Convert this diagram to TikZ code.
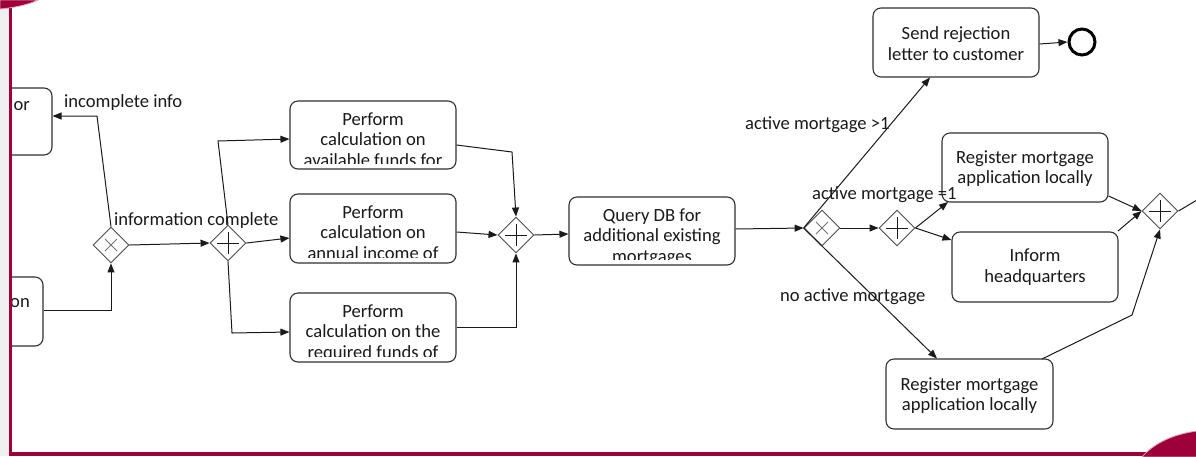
\documentclass[tikz,border=0pt]{standalone}
\usepackage{fontspec}
\setmainfont{Carlito}
\usetikzlibrary{arrows.meta,shapes.geometric}
\definecolor{slidered}{HTML}{9E0039}
\definecolor{slidepink}{HTML}{E8A0B8}
\definecolor{ink}{HTML}{1A1A1A}
\tikzset{
  task/.style={draw=ink!90, line width=1.1pt, rounded corners=8pt, fill=white, inner sep=0pt},
  tasktext/.style={text=ink, align=center, font=\fontsize{18.6}{20.8}\selectfont, inner sep=0pt},
  lbl/.style={text=ink, font=\fontsize{18.6}{20}\selectfont, inner sep=0pt, anchor=west},
  gw/.style={diamond, draw=black!70, line width=0.9pt, minimum width=36pt, minimum height=36pt, inner sep=0pt, fill=white},
  flow/.style={draw=ink, line width=1pt, -{Triangle[length=9pt,width=7pt]}},
  plainflow/.style={draw=ink, line width=1pt},
  pmark/.style={draw=ink, line width=1pt},
  xmark/.style={draw=black!55, line width=0.9pt},
}
\begin{document}
\begin{tikzpicture}[x=1pt,y=-1pt]
\useasboundingbox (0,0) rectangle (1196,456);
\fill[white] (0,0) rectangle (1196,456);
% slide frame
\fill[black!6] (0,0) rectangle (9,456);
% left boxes (cut)
\begin{scope}
\clip (12,0) rectangle (300,456);
\node[task, minimum width=90pt, minimum height=67pt] (a) at (7,121.5) {};
\node[task, minimum width=80pt, minimum height=69pt] (b) at (3,311.5) {};
\end{scope}
\node[tasktext, anchor=base east] (at) at (30,110) {or};
\node[tasktext, anchor=base east] (bt) at (30,307) {on};
\fill[slidered] (8.5,0) rectangle (12,456);
\fill[slidered] (8.5,452) rectangle (1196,456);
\fill[slidered, draw=slidepink, line width=0.8pt] (0,0) -- (38,0) .. controls (28,5) and (12,8) .. (0,9) -- cycle;
\fill[slidered, draw=slidepink, line width=0.8pt] (1142,457) .. controls (1155,442) and (1175,434) .. (1197,431) -- (1197,457) -- cycle;

% gateways
\node[gw] (x1) at (111,245) {};
\draw[xmark] (105,239) -- (117,251) (117,239) -- (105,251);
\node[gw] (p1) at (228,243) {};
\draw[pmark] (217,243) -- (239,243) (228,232) -- (228,254);
\node[gw] (p2) at (516,235) {};
\draw[pmark] (505,235) -- (527,235) (516,224) -- (516,246);
\node[gw] (x2) at (822,228) {};
\draw[xmark] (816,222) -- (828,234) (828,222) -- (816,234);
\node[gw] (p3) at (897,228) {};
\draw[pmark] (886,228) -- (908,228) (897,217) -- (897,239);
\node[gw] (p4) at (1160,211) {};
\draw[pmark] (1149,211) -- (1171,211) (1160,200) -- (1160,222);

% tasks with clipped text
\node[task, minimum width=166pt, minimum height=68pt] (c1) at (373,135) {};
\begin{scope}\clip (290,101) rectangle (456,163.5);
\node[tasktext, anchor=base] (c1t) at (373,166.6) {Perform\\calculation on\\available funds for};
\end{scope}
\node[task, minimum width=166pt, minimum height=69pt] (c2) at (373,228.5) {};
\begin{scope}\clip (290,194) rectangle (456,257);
\node[tasktext, anchor=base] (c2t) at (373,259.6) {Perform\\calculation on\\annual income of};
\end{scope}
\node[task, minimum width=166pt, minimum height=69pt] (c3) at (373,327.5) {};
\begin{scope}\clip (290,293) rectangle (456,356);
\node[tasktext, anchor=base] (c3t) at (373,358.6) {Perform\\calculation on the\\required funds of};
\end{scope}
\node[task, minimum width=166pt, minimum height=68pt] (d) at (652,231) {};
\begin{scope}\clip (569,197) rectangle (735,259);
\node[tasktext, anchor=base] (dt) at (652,262.6) {Query DB for\\additional existing\\mortgages};
\end{scope}
\node[task, minimum width=166pt, minimum height=69pt] (e) at (956,42.5) {};
\node[tasktext] (et) at (956,43.5) {Send rejection\\letter to customer};
\node[task, minimum width=166pt, minimum height=69pt] (f1) at (1025,167.5) {};
\node[tasktext] (f1t) at (1025,168.5) {Register mortgage\\application locally};
\node[task, minimum width=166pt, minimum height=70pt] (f2) at (1035,267) {};
\node[tasktext] (f2t) at (1035,267.5) {Inform\\headquarters};
\node[task, minimum width=167pt, minimum height=70pt] (g) at (969.5,394) {};
\node[tasktext] (gt) at (969.5,395.5) {Register mortgage\\application locally};

% end event
\node[circle, draw=black, line width=3pt, minimum size=26pt, inner sep=0pt] (end) at (1082,42) {};

% flows
\draw[flow] (b.east |- 0,310) -| (x1.south);
\draw[flow] (x1.north) -- (97,116) -- (a.east |- 0,116);
\draw[flow] (x1.east) -- (p1.west);
\draw[flow] (p1.north) -- (218,141) -- (c1.west |- 0,139);
\draw[flow] (p1.east) -- (c2.west |- 0,238);
\draw[flow] (p1.south) -- (232,333) -- (c3.west |- 0,332);
\draw[flow] (c1.east |- 0,145) -- (512,152) -- (p2.north);
\draw[flow] (c2.east |- 0,232) -- (p2.west);
\draw[flow] (c3.east |- 0,327) -| (p2.south);
\draw[flow] (p2.east) -- (d.west |- 0,234);
\draw[flow] (d.east |- 0,229) -- (x2.west);
\draw[flow] (x2.west) -- (930,77.5);
\draw[flow] (x2.west) -- (937,358.5);
\draw[flow] (x2.east) -- (p3.west);
\draw[flow] (p3.east) -- (948,202);
\draw[flow] (p3.east) -- (f2.west |- 0,240);
\draw[flow] (f1.east |- 0,196) -- (p4.west);
\draw[flow] (1118,231) -- (p4.west);
\draw[flow] (1042,359) -- (1132,315) -- (p4.south);
\draw[plainflow] (p4.east) -- (1197,200);
\draw[flow] (e.east |- 0,44) -- (end.west);

% labels
\node[lbl] (l1) at (64,103) {incomplete info};
\node[lbl] (l2) at (114,221) {information complete};
\node[lbl] (l3) at (745,125) {active mortgage >1};
\node[lbl] (l4) at (812,195) {active mortgage =1};
\node[lbl] (l5) at (780,297) {no active mortgage};
\end{tikzpicture}
\end{document}
